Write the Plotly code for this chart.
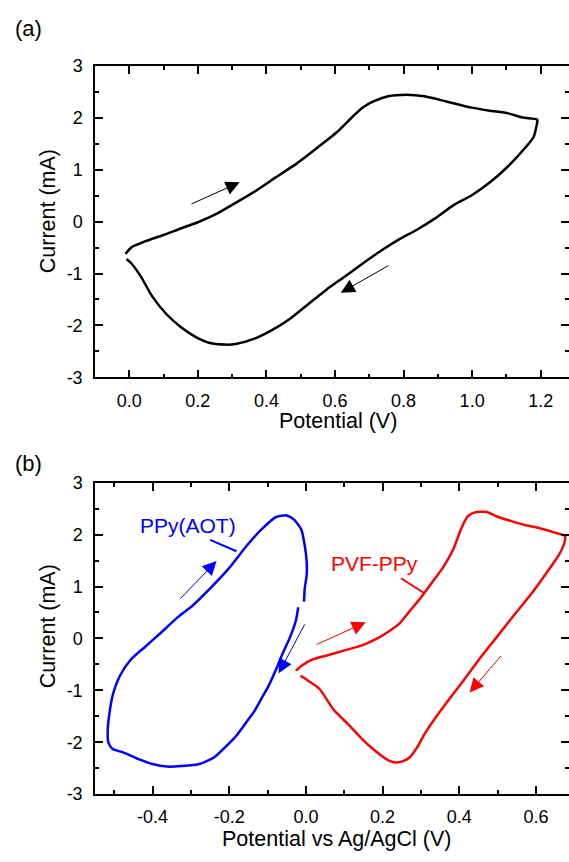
import plotly.graph_objects as go

# ---------------- data ----------------
# Panel (a): PVF-PPy CV loop (black)
a_x = [-0.011, 0.007, 0.045, 0.098, 0.150, 0.200, 0.257, 0.299, 0.363, 0.426, 0.490, 0.553,
       0.606, 0.649, 0.680, 0.712, 0.755, 0.808, 0.861, 0.924, 0.999, 1.052, 1.105, 1.147,
       1.190, 1.190, 1.179, 1.158, 1.105, 1.052, 0.999, 0.946, 0.893, 0.840, 0.787, 0.734,
       0.680, 0.628, 0.575, 0.522, 0.469, 0.416, 0.363, 0.310, 0.278, 0.235, 0.193, 0.150,
       0.108, 0.066, 0.034, 0.007, -0.008]
a_y = [-0.62, -0.49, -0.38, -0.26, -0.13, -0.01, 0.16, 0.32, 0.57, 0.85, 1.13, 1.45,
       1.73, 2.01, 2.20, 2.32, 2.42, 2.45, 2.42, 2.32, 2.20, 2.14, 2.09, 2.01,
       1.97, 1.92, 1.63, 1.45, 1.07, 0.76, 0.51, 0.32, 0.07, -0.15, -0.34, -0.56,
       -0.81, -1.06, -1.31, -1.59, -1.87, -2.09, -2.26, -2.36, -2.37, -2.34, -2.22, -2.03,
       -1.78, -1.43, -1.06, -0.81, -0.72]

# Panel (b): PPy(AOT) (blue)
b_blue_x = [-0.020, -0.026, -0.041, -0.060, -0.078, -0.097, -0.116, -0.135, -0.154, -0.182,
            -0.211, -0.239, -0.277, -0.324, -0.362, -0.400, -0.438, -0.475, -0.504, -0.515,
            -0.517, -0.513, -0.504, -0.485, -0.457, -0.419, -0.381, -0.334, -0.296, -0.249,
            -0.201, -0.154, -0.116, -0.078, -0.050, -0.031, -0.012, -0.003, 0.002, 0.002,
            -0.003, -0.005]
b_blue_y = [0.60, 0.35, 0.03, -0.28, -0.60, -0.91, -1.16, -1.41, -1.60, -1.88,
            -2.10, -2.29, -2.42, -2.46, -2.47, -2.42, -2.32, -2.20, -2.13, -2.01,
            -1.79, -1.48, -1.10, -0.72, -0.41, -0.16, 0.09, 0.41, 0.63, 0.97,
            1.35, 1.79, 2.10, 2.34, 2.37, 2.29, 2.10, 1.79, 1.48, 1.22,
            0.97, 0.71]

# Panel (b): PVF-PPy (red)
b_red_x = [-0.026, -0.012, 0.016, 0.054, 0.101, 0.148, 0.186, 0.215, 0.243, 0.271,
           0.300, 0.328, 0.356, 0.385, 0.404, 0.422, 0.441, 0.470, 0.498, 0.536,
           0.574, 0.612, 0.649, 0.676, 0.673, 0.659, 0.630, 0.593, 0.545, 0.498,
           0.451, 0.413, 0.375, 0.337, 0.309, 0.290, 0.271, 0.252, 0.233, 0.215,
           0.186, 0.148, 0.111, 0.073, 0.035, 0.007, -0.014]
b_red_y = [-0.62, -0.53, -0.41, -0.33, -0.23, -0.13, 0.00, 0.13, 0.28, 0.53,
           0.79, 1.07, 1.35, 1.73, 2.10, 2.35, 2.43, 2.44, 2.35, 2.26,
           2.18, 2.12, 2.04, 1.97, 1.82, 1.60, 1.29, 0.91, 0.47, 0.03,
           -0.41, -0.79, -1.16, -1.54, -1.85, -2.10, -2.29, -2.37, -2.39, -2.35,
           -2.20, -1.95, -1.66, -1.38, -0.97, -0.82, -0.72]

# arrows: (tail_x, tail_y, head_x, head_y)
a_arrows = [(0.177, 0.33, 0.322, 0.76), (0.760, -0.83, 0.617, -1.37)]
b_blue_arrows = [(-0.331, 0.74, -0.233, 1.49), (-0.001, 0.30, -0.071, -0.67)]
b_red_arrows = [(0.024, -0.13, 0.156, 0.31), (0.512, -0.31, 0.427, -1.04)]

# labels with leader lines
b_labels = ["PPy(AOT)", "PVF-PPy"]
b_label_pos = [(-0.307, 2.18), (0.179, 1.44)]
b_leader_x = [[-0.250, -0.181], [0.248, 0.309]]
b_leader_y = [[1.90, 1.68], [1.16, 0.87]]

y_ticks = [-3, -2, -1, 0, 1, 2, 3]
y_ticktext = ["-3", "-2", "-1", "0", "1", "2", "3"]
a_xticks = [0.0, 0.2, 0.4, 0.6, 0.8, 1.0, 1.2]
a_xticktext = ["0.0", "0.2", "0.4", "0.6", "0.8", "1.0", "1.2"]
b_xticks = [-0.4, -0.2, 0.0, 0.2, 0.4, 0.6]
b_xticktext = ["-0.4", "-0.2", "0.0", "0.2", "0.4", "0.6"]

# ---------------- figure ----------------
W, H = 569, 862
FONT = "Liberation Sans, Arial, sans-serif"

fig = go.Figure()

line_shape = dict(shape="spline", smoothing=0.6)
fig.add_trace(go.Scatter(x=a_x, y=a_y, mode="lines", line=dict(color="black", width=2.5, **line_shape),
                         xaxis="x", yaxis="y", showlegend=False, hoverinfo="skip"))
fig.add_trace(go.Scatter(x=b_blue_x, y=b_blue_y, mode="lines",
                         line=dict(color="#0000FF", width=2.5, **line_shape),
                         xaxis="x2", yaxis="y2", showlegend=False, hoverinfo="skip"))
fig.add_trace(go.Scatter(x=b_red_x, y=b_red_y, mode="lines",
                         line=dict(color="#FF0000", width=2.5, **line_shape),
                         xaxis="x2", yaxis="y2", showlegend=False, hoverinfo="skip"))
colors = ["#0000FF", "#FF0000"]
for i in range(2):
    fig.add_trace(go.Scatter(x=b_leader_x[i], y=b_leader_y[i], mode="lines",
                             line=dict(color=colors[i], width=2),
                             xaxis="x2", yaxis="y2", showlegend=False, hoverinfo="skip"))
# dummy traces for right-side tick axes
fig.add_trace(go.Scatter(x=[None], y=[None], xaxis="x", yaxis="y3", showlegend=False))
fig.add_trace(go.Scatter(x=[None], y=[None], xaxis="x2", yaxis="y4", showlegend=False))

# pixel geometry -> paper coords
left_px = 95
xdom = [left_px / W, 1.0]
a_top, a_bot = 57.5, 376.0
b_top, b_bot = 484.0, 802.7
a_ydom = [1 - a_bot / H, 1 - a_top / H]
b_ydom = [1 - b_bot / H, 1 - b_top / H]

tickfont = dict(family=FONT, size=18, color="black")
common_x = dict(showline=True, linecolor="black", linewidth=1.5, mirror="ticks",
                ticks="inside", ticklen=8, tickwidth=1.5, tickcolor="black",
                showgrid=False, zeroline=False, tickfont=tickfont, ticklabelstandoff=6,
                tickmode="array")
common_y = dict(showline=True, linecolor="black", linewidth=1.5, mirror=False,
                ticks="inside", ticklen=8, tickwidth=1.5, tickcolor="black",
                showgrid=False, zeroline=False, tickfont=tickfont, ticklabelstandoff=7,
                range=[-3, 3], tickmode="array", tickvals=y_ticks, ticktext=y_ticktext,
                minor=dict(dtick=0.5, tick0=0, ticks="inside", ticklen=4, tickwidth=1.5,
                           tickcolor="black", showgrid=False))
right_y = dict(showline=False, ticks="inside", ticklen=8, tickwidth=1.5, tickcolor="black",
               showgrid=False, zeroline=False, showticklabels=False, side="right",
               range=[-3, 3], tickmode="array", tickvals=y_ticks,
               minor=dict(dtick=0.5, tick0=0, ticks="inside", ticklen=4, tickwidth=1.5,
                          tickcolor="black", showgrid=False))

a_px_per_unit = 342.8
b_px_per_unit = 383.3
a_xmax = 1.2 + (W - 540.7) / a_px_per_unit
b_xmax = 0.6 + (W - 536.0) / b_px_per_unit

fig.update_layout(
    width=W, height=H, margin=dict(l=0, r=0, t=0, b=0),
    paper_bgcolor="white", plot_bgcolor="white",
    xaxis=dict(domain=xdom, anchor="y", range=[-0.1, a_xmax], tickvals=a_xticks,
               ticktext=a_xticktext,
               minor=dict(dtick=0.1, tick0=0, ticks="inside", ticklen=4, tickwidth=1.5,
                          tickcolor="black", showgrid=False), **common_x),
    yaxis=dict(domain=a_ydom, anchor="x", **common_y),
    yaxis3=dict(overlaying="y", anchor="x", **right_y),
    xaxis2=dict(domain=xdom, anchor="y2", range=[-0.55, b_xmax], tickvals=b_xticks,
                ticktext=b_xticktext,
                minor=dict(dtick=0.1, tick0=0, ticks="inside", ticklen=4, tickwidth=1.5,
                           tickcolor="black", showgrid=False), **common_x),
    yaxis2=dict(domain=b_ydom, anchor="x2", **common_y),
    yaxis4=dict(overlaying="y2", anchor="x2", **right_y),
)

annotations = []

def add_arrows(arrows, color, xr, yr):
    for tx, ty, hx, hy in arrows:
        annotations.append(dict(x=hx, y=hy, ax=tx, ay=ty, xref=xr, yref=yr, axref=xr, ayref=yr,
                                text="", showarrow=True, arrowhead=2, arrowsize=2.8,
                                arrowwidth=1, arrowcolor=color, standoff=0, startstandoff=0))

add_arrows(a_arrows, "black", "x", "y")
add_arrows(b_blue_arrows, "#0000FF", "x2", "y2")
add_arrows(b_red_arrows, "#FF0000", "x2", "y2")

for i, lab in enumerate(b_labels):
    annotations.append(dict(x=b_label_pos[i][0], y=b_label_pos[i][1], xref="x2", yref="y2",
                            text=lab, showarrow=False, xanchor="center", yanchor="middle",
                            font=dict(family=FONT, size=21, color=colors[i])))

titlefont = dict(family=FONT, size=21.5, color="black")
annotations.append(dict(x=28 / W, y=1 - 19 / H, xref="paper", yref="paper", text="(a)",
                        showarrow=False, xanchor="center", yanchor="middle",
                        font=dict(family=FONT, size=22, color="black")))
annotations.append(dict(x=28 / W, y=1 - 464 / H, xref="paper", yref="paper", text="(b)",
                        showarrow=False, xanchor="center", yanchor="middle",
                        font=dict(family=FONT, size=22, color="black")))
annotations.append(dict(x=48 / W, y=1 - 206 / H, xref="paper", yref="paper", text="Current (mA)",
                        textangle=-90, showarrow=False, xanchor="center", yanchor="middle",
                        font=titlefont))
annotations.append(dict(x=48 / W, y=1 - 631 / H, xref="paper", yref="paper", text="Current (mA)",
                        textangle=-90, showarrow=False, xanchor="center", yanchor="middle",
                        font=titlefont))
annotations.append(dict(x=338 / W, y=1 - 421 / H, xref="paper", yref="paper", text="Potential (V)",
                        showarrow=False, xanchor="center", yanchor="middle", font=titlefont))
annotations.append(dict(x=336 / W, y=1 - 849 / H, xref="paper", yref="paper",
                        text="Potential vs Ag/AgCl (V)",
                        showarrow=False, xanchor="center", yanchor="middle", font=titlefont))

fig.update_layout(annotations=annotations)

fig.write_html("out.html", config={"displayModeBar": False},
               post_script="document.body.style.margin='0';")
